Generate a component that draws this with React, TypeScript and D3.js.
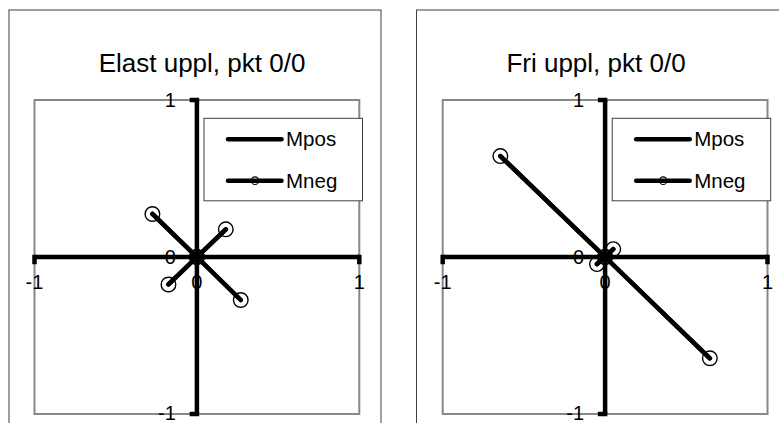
import React from "react";
import * as d3 from "d3";

// värden
const ticks = [-1, 0, 1];
const titles = ["Elast uppl, pkt 0/0", "Fri uppl, pkt 0/0"];
const seriesNames = ["Mpos", "Mneg"];

// varje serie: lista av segment, punkter [x, y]
const elastMpos: [number, number][][] = [
  [[-0.274, 0.274], [0, 0], [0.27, -0.274]],
  [[-0.175, -0.175], [0, 0], [0.178, 0.176]],
];
const elastMneg: [number, number][][] = [
  [[-0.274, 0.274], [0, 0], [0.27, -0.274]],
  [[-0.175, -0.175], [0, 0], [0.178, 0.176]],
];
const friMpos: [number, number][][] = [
  [[-0.645, 0.643], [0, 0], [0.645, -0.645]],
  [[-0.05, -0.045], [0, 0], [0.05, 0.05]],
];
const friMneg: [number, number][][] = [
  [[-0.645, 0.643], [0, 0], [0.645, -0.645]],
  [[-0.05, -0.045], [0, 0], [0.05, 0.05]],
];

const W = 779;
const H = 423;
const FONT = "'Liberation Sans', Arial, sans-serif";

const panels = [
  { outerX: 9, outerW: 372, plotLeft: 34.5, titleX: 202, mpos: elastMpos, mneg: elastMneg },
  { outerX: 416.5, outerW: 372, plotLeft: 442.7, titleX: 596, mpos: friMpos, mneg: friMneg },
];

const plotW = 324.8;
const plotTop = 100;
const plotBottom = 414;

function Panel({ p, title }: { p: any; title: string }) {
  const x = d3.scaleLinear().domain([-1, 1]).range([p.plotLeft, p.plotLeft + plotW]);
  const y = d3.scaleLinear().domain([-1, 1]).range([plotBottom, plotTop]);
  const line = d3.line<[number, number]>().x((d) => x(d[0])).y((d) => y(d[1]));
  const x0 = x(0);
  const y0 = y(0);
  const lw = 4.5;
  const lg = { x: p.plotLeft + 169.5, y: 118.3, w: 158.5, h: 82.5 };

  return (
    <g>
      <rect x={p.outerX} y={10} width={p.outerW} height={H} fill="#fff" stroke="#404040" strokeWidth={1} />
      <text x={p.titleX} y={72} textAnchor="middle" fontFamily={FONT} fontSize={26} fill="#000">
        {title}
      </text>
      <rect x={p.plotLeft} y={plotTop} width={plotW} height={plotBottom - plotTop} fill="none" stroke="#888" strokeWidth={2} />

      {/* tick labels */}
      {ticks.map((t) => (
        <text key={"yl" + t} x={x0 - 21} y={t === -1 ? y(t) - 1 : y(t)} dy="0.35em" textAnchor="end" fontFamily={FONT} fontSize={20}>
          {t}
        </text>
      ))}
      {ticks.map((t) => (
        <text key={"xl" + t} x={x(t)} y={y0 + 25} dy="0.35em" textAnchor="middle" fontFamily={FONT} fontSize={20}>
          {t}
        </text>
      ))}

      {/* axlar */}
      <line x1={x(-1)} x2={x(1)} y1={y0} y2={y0} stroke="#000" strokeWidth={lw} />
      <line x1={x0} x2={x0} y1={y(-1)} y2={y(1)} stroke="#000" strokeWidth={lw} />
      {ticks.map((t) => (
        <line key={"xt" + t} x1={x(t)} x2={x(t)} y1={y0} y2={y0 + 5} stroke="#000" strokeWidth={lw} strokeLinecap="square" />
      ))}
      {ticks.map((t) => (
        <line key={"yt" + t} x1={x0 - 5} x2={x0} y1={y(t)} y2={y(t)} stroke="#000" strokeWidth={lw} strokeLinecap="square" />
      ))}

      {/* serier */}
      {p.mpos.map((seg: [number, number][], i: number) => (
        <path key={"mp" + i} d={line(seg) || ""} fill="none" stroke="#000" strokeWidth={lw} strokeLinecap="round" />
      ))}
      {p.mneg.map((seg: [number, number][], i: number) => (
        <g key={"mn" + i}>
          <path d={line(seg) || ""} fill="none" stroke="#000" strokeWidth={lw} strokeLinecap="round" />
          {seg.map((d, j) => (
            <circle key={j} cx={x(d[0])} cy={y(d[1])} r={7.3} fill="none" stroke="#000" strokeWidth={1.4} />
          ))}
        </g>
      ))}

      {/* legend */}
      <rect x={lg.x} y={lg.y} width={lg.w} height={lg.h} fill="#fff" stroke="#404040" strokeWidth={1} />
      {seriesNames.map((name, i) => {
        const ly = lg.y + 21 + i * 41.4;
        return (
          <g key={name}>
            <line x1={lg.x + 24} x2={lg.x + 77.5} y1={ly} y2={ly} stroke="#000" strokeWidth={lw} strokeLinecap="round" />
            {i === 1 && <circle cx={lg.x + 51} cy={ly} r={3.8} fill="none" stroke="#000" strokeWidth={1.1} />}
            <text x={lg.x + 82} y={ly} dy="0.35em" fontFamily={FONT} fontSize={20.5}>
              {name}
            </text>
          </g>
        );
      })}
    </g>
  );
}

export default function App() {
  return (
    <svg width={W} height={H} style={{ position: "absolute", left: 0, top: 0, background: "#fff" }}>
      {panels.map((p, i) => (
        <Panel key={i} p={p} title={titles[i]} />
      ))}
    </svg>
  );
}
